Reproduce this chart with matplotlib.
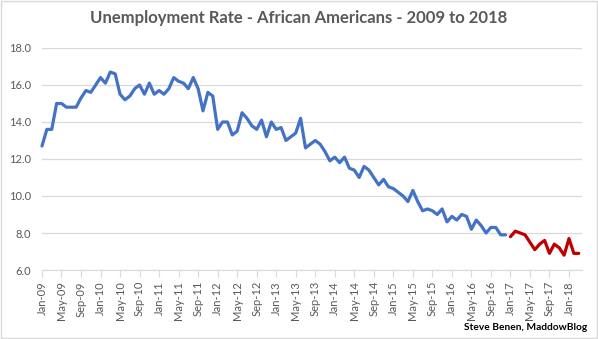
import numpy as np
import matplotlib
matplotlib.use("Agg")
import matplotlib.pyplot as plt
from matplotlib.patches import Rectangle

# monthly rate, Jan-09 .. Dec-16 (blue) and Jan-17 .. Mar-18 (red)
rate_2009_2016 = [
    12.7, 13.6, 13.6, 15.0, 15.0, 14.8, 14.8, 14.8, 15.3, 15.7, 15.6, 16.0,
    16.4, 16.1, 16.7, 16.6, 15.5, 15.2, 15.4, 15.8, 16.0, 15.5, 16.1, 15.5,
    15.7, 15.5, 15.8, 16.4, 16.2, 16.1, 15.8, 16.4, 15.8, 14.6, 15.6, 15.4,
    13.6, 14.0, 14.0, 13.3, 13.5, 14.5, 14.2, 13.8, 13.6, 14.1, 13.2, 14.0,
    13.6, 13.7, 13.0, 13.2, 13.4, 14.2, 12.6, 12.8, 13.0, 12.8, 12.4, 11.9,
    12.1, 11.8, 12.1, 11.5, 11.4, 11.0, 11.6, 11.4, 11.0, 10.6, 10.9, 10.5,
    10.4, 10.2, 10.0, 9.7, 10.3, 9.7, 9.2, 9.3, 9.2, 9.0, 9.3, 8.6,
    8.9, 8.7, 9.0, 8.9, 8.2, 8.7, 8.4, 8.0, 8.3, 8.3, 7.9, 7.9,
]
rate_2017_2018 = [7.8, 8.1, 8.0, 7.9, 7.5, 7.1, 7.4, 7.6, 6.9, 7.4, 7.2, 6.8, 7.7, 6.9, 6.9]

months = ["Jan", "May", "Sep"]
tick_labels = [f"{m}-{y:02d}" for y in range(9, 19) for m in months][:28]
y_ticks = [6, 8, 10, 12, 14, 16, 18]

gray = "#595959"
grid = "#d9d9d9"
plt.rcParams["font.family"] = ["Lato", "DejaVu Sans"]

fig = plt.figure(figsize=(5.98, 3.39), dpi=100)
ax = fig.add_axes([0.0702, 0.2035, 0.9025, 0.655])

x1 = np.arange(len(rate_2009_2016))
x2 = np.arange(len(rate_2017_2018)) + len(rate_2009_2016)
ax.plot(x1, rate_2009_2016, color="#4472C4", lw=2.3, solid_joinstyle="round",
        solid_capstyle="round", clip_on=False)
ax.plot(x2, rate_2017_2018, color="#C00000", lw=2.3, solid_joinstyle="round",
        solid_capstyle="round", clip_on=False)

ax.set_ylim(6, 18)
ax.set_yticks(y_ticks)
ax.set_yticklabels([f"{v:.1f}" for v in y_ticks], color=gray, fontsize=8)
ax.set_xlim(0, 110.6)
ax.set_xticks(np.arange(len(tick_labels)) * 4)
ax.set_xticklabels(tick_labels, rotation=90, color=gray, fontsize=8)
ax.tick_params(axis="y", length=0, pad=8)
ax.tick_params(axis="x", length=5, color=grid, pad=3)
ax.grid(axis="y", color=grid, lw=0.9)
ax.set_axisbelow(True)
for s in ["top", "right", "left"]:
    ax.spines[s].set_visible(False)
ax.spines["bottom"].set_color(grid)

fig.text(0.5, 0.947, "Unemployment Rate - African Americans - 2009 to 2018",
         ha="center", va="center", fontsize=12, fontweight="bold", color=gray)
fig.text(0.982, 0.035, "Steve Benen, MaddowBlog", ha="right", va="center",
         fontsize=7.3, fontweight="bold", color="black")
fig.patches.append(Rectangle((0.001, 0.002), 0.997, 0.995, transform=fig.transFigure,
                             fill=False, edgecolor=grid, lw=1))

fig.savefig("out.png", dpi=100)
